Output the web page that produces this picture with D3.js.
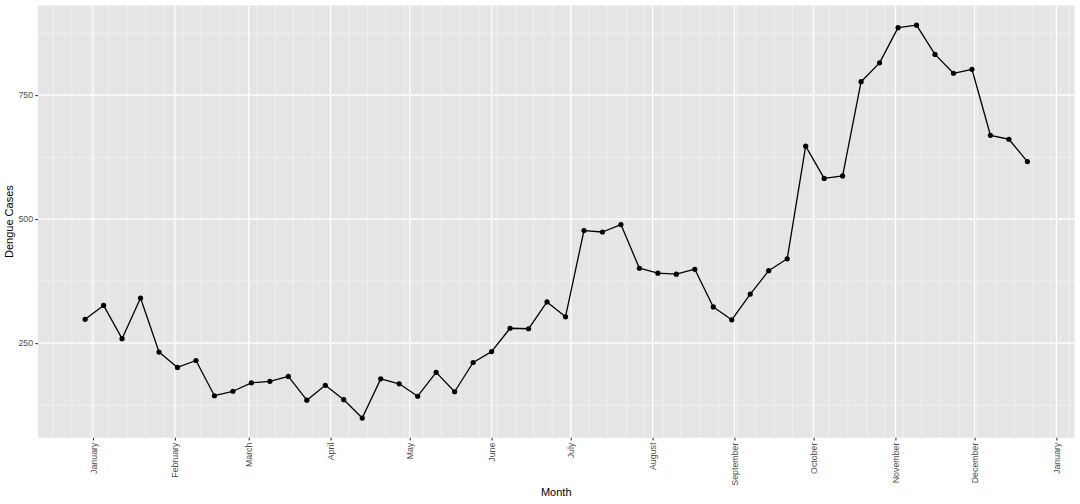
<!DOCTYPE html>
<html>
<head>
<meta charset="utf-8">
<script src="https://cdn.jsdelivr.net/npm/d3@7"></script>
<style>
  html, body { margin: 0; padding: 0; background: #ffffff; }
  svg { display: block; }
</style>
</head>
<body>
<svg id="chart" width="1080" height="504"></svg>
<script>
// ---- data ----
const weekDates = [
  "2014-12-29","2015-01-05","2015-01-12","2015-01-19","2015-01-26",
  "2015-02-02","2015-02-09","2015-02-16","2015-02-23",
  "2015-03-02","2015-03-09","2015-03-16","2015-03-23","2015-03-30",
  "2015-04-06","2015-04-13","2015-04-20","2015-04-27",
  "2015-05-04","2015-05-11","2015-05-18","2015-05-25",
  "2015-06-01","2015-06-08","2015-06-15","2015-06-22","2015-06-29",
  "2015-07-06","2015-07-13","2015-07-20","2015-07-27",
  "2015-08-03","2015-08-10","2015-08-17","2015-08-24","2015-08-31",
  "2015-09-07","2015-09-14","2015-09-21","2015-09-28",
  "2015-10-05","2015-10-12","2015-10-19","2015-10-26",
  "2015-11-02","2015-11-09","2015-11-16","2015-11-23","2015-11-30",
  "2015-12-07","2015-12-14","2015-12-21"
];
const dengueCases = [
  298, 326, 259, 341, 232,
  201, 215, 144, 153,
  170, 173, 183, 135, 165,
  136, 99, 178, 168,
  143, 191, 152, 211,
  233, 280, 279, 333, 303,
  477, 474, 489, 401,
  391, 389, 399, 323, 297,
  349, 396, 420, 647,
  582, 587, 777, 815,
  886, 891, 832, 794, 802,
  669, 661, 616
];
const yTickValues = [250, 500, 750];
const xTitle = "Month";
const yTitle = "Dengue Cases";

// ---- layout ----
const W = 1080, H = 504;
const panel = { left: 38, right: W - 5.5, top: 5.5, bottom: 437.7 };

const parse = d3.utcParse("%Y-%m-%d");
const data = weekDates.map((d, i) => ({ date: parse(d), value: dengueCases[i] }));

function expand(ext, f) {
  const span = ext[1] - ext[0];
  return [ext[0] - span * f, ext[1] + span * f];
}
const xExt = d3.extent(data, d => +d.date);
const xDom = expand(xExt, 0.05).map(t => new Date(t));
const yDom = expand(d3.extent(data, d => d.value), 0.05);

const x = d3.scaleUtc().domain(xDom).range([panel.left, panel.right]);
const y = d3.scaleLinear().domain(yDom).range([panel.bottom, panel.top]);

const svg = d3.select("#chart");
const font = "'Liberation Sans', Arial, Helvetica, sans-serif";

// panel background
svg.append("rect")
  .attr("x", panel.left).attr("y", panel.top)
  .attr("width", panel.right - panel.left).attr("height", panel.bottom - panel.top)
  .attr("fill", "#E5E5E5");

const grid = svg.append("g");

// minor grid
const xMinor = d3.utcWednesday.range(xDom[0], xDom[1]);
grid.selectAll(".xminor").data(xMinor).enter().append("line")
  .attr("x1", d => x(d)).attr("x2", d => x(d))
  .attr("y1", panel.top).attr("y2", panel.bottom)
  .attr("stroke", "#F2F2F2").attr("stroke-width", 0.8);

const yAll = [yTickValues[0] - (yTickValues[1] - yTickValues[0])].concat(yTickValues)
  .concat([yTickValues[yTickValues.length - 1] + (yTickValues[1] - yTickValues[0])]);
const yMinor = d3.pairs(yAll).map(p => (p[0] + p[1]) / 2)
  .filter(v => v > yDom[0] && v < yDom[1]);
grid.selectAll(".yminor").data(yMinor).enter().append("line")
  .attr("x1", panel.left).attr("x2", panel.right)
  .attr("y1", d => y(d)).attr("y2", d => y(d))
  .attr("stroke", "#F2F2F2").attr("stroke-width", 0.8);

// major grid
const xMajor = d3.utcMonth.range(xDom[0], xDom[1]);
grid.selectAll(".xmajor").data(xMajor).enter().append("line")
  .attr("x1", d => x(d)).attr("x2", d => x(d))
  .attr("y1", panel.top).attr("y2", panel.bottom)
  .attr("stroke", "#ffffff").attr("stroke-width", 1.3);
grid.selectAll(".ymajor").data(yTickValues).enter().append("line")
  .attr("x1", panel.left).attr("x2", panel.right)
  .attr("y1", d => y(d)).attr("y2", d => y(d))
  .attr("stroke", "#ffffff").attr("stroke-width", 1.3);

// line + points
const line = d3.line().x(d => x(d.date)).y(d => y(d.value));
svg.append("path").datum(data)
  .attr("d", line)
  .attr("fill", "none")
  .attr("stroke", "#000000")
  .attr("stroke-width", 1.3)
  .attr("stroke-linejoin", "round");
svg.selectAll(".pt").data(data).enter().append("circle")
  .attr("cx", d => x(d.date)).attr("cy", d => y(d.value))
  .attr("r", 2.6).attr("fill", "#000000");

// axes
const xAxis = d3.axisBottom(x)
  .tickValues(xMajor)
  .tickFormat(d3.utcFormat("%B"))
  .tickSize(2.75).tickPadding(2.2);
const gx = svg.append("g")
  .attr("transform", `translate(0,${panel.bottom})`)
  .call(xAxis);
gx.select(".domain").remove();
gx.selectAll(".tick line").attr("stroke", "#333333").attr("stroke-width", 1.07);
gx.selectAll(".tick text")
  .attr("fill", "#4D4D4D")
  .style("font-family", font).style("font-size", "8.8px")
  .attr("transform", "rotate(-90)")
  .attr("x", -(2.75 + 2.2)).attr("y", 0).attr("dy", "0.35em")
  .attr("text-anchor", "end");

const yAxis = d3.axisLeft(y)
  .tickValues(yTickValues)
  .tickFormat(d3.format("d"))
  .tickSize(2.75).tickPadding(2.2);
const gy = svg.append("g")
  .attr("transform", `translate(${panel.left},0)`)
  .call(yAxis);
gy.select(".domain").remove();
gy.selectAll(".tick line").attr("stroke", "#333333").attr("stroke-width", 1.07);
gy.selectAll(".tick text")
  .attr("fill", "#4D4D4D")
  .style("font-family", font).style("font-size", "8.8px");

// titles
svg.append("text")
  .attr("x", (panel.left + panel.right) / 2).attr("y", 496)
  .attr("text-anchor", "middle")
  .style("font-family", font).style("font-size", "11px")
  .attr("fill", "#000000")
  .text(xTitle);
svg.append("text")
  .attr("transform", `translate(13,${(panel.top + panel.bottom) / 2}) rotate(-90)`)
  .attr("text-anchor", "middle")
  .style("font-family", font).style("font-size", "11px")
  .attr("fill", "#000000")
  .text(yTitle);
</script>
</body>
</html>
